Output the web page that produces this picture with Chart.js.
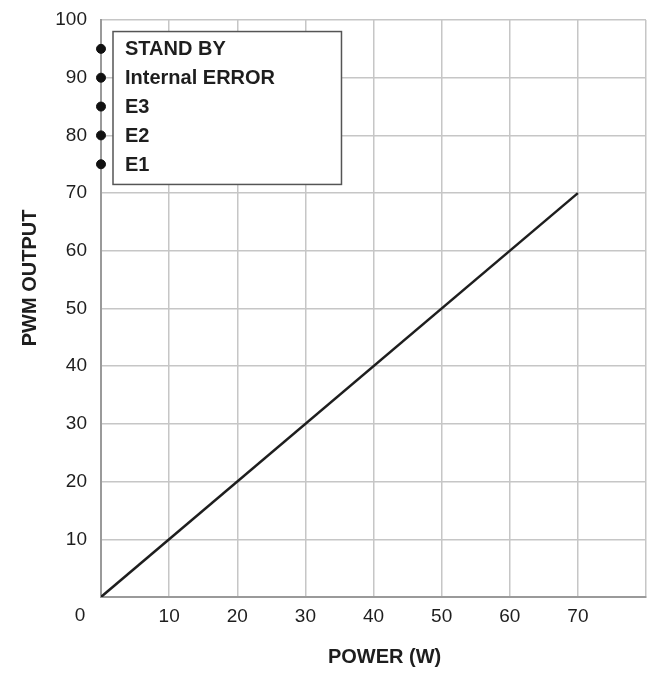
<!DOCTYPE html>
<html>
<head>
<meta charset="utf-8">
<script src="https://cdn.jsdelivr.net/npm/chart.js@4"></script>
<style>
  html, body { margin: 0; padding: 0; background: #fff; }
  #wrap { width: 654px; height: 673px; }
</style>
</head>
<body>
<div id="wrap"><canvas id="pwmChart"></canvas></div>
<script>
// power (W) vs PWM output
const powerW = [0, 70];
const pwmOut = [0, 70];

// status points on the y axis
const statusNames = ['STAND BY', 'Internal ERROR', 'E3', 'E2', 'E1'];
const statusPower = [0, 0, 0, 0, 0];
const statusPwm = [95, 90, 85, 80, 75];

const xTicks = [0, 10, 20, 30, 40, 50, 60, 70, 80];
const yTicks = [0, 10, 20, 30, 40, 50, 60, 70, 80, 90, 100];

const FONT = '"Liberation Sans Narrow", "Arial Narrow", "Liberation Sans", Arial, sans-serif';
const INK = '#1e1e1e';

// box with the status names, next to the dots
const statusBox = {
    id: 'statusBox',
    beforeDatasetsDraw(chart) {
        const ctx = chart.ctx;
        const x = chart.scales.x, y = chart.scales.y;
        const left = x.getPixelForValue(0) + 12;
        const right = x.getPixelForValue(35.3);
        const top = y.getPixelForValue(98);
        const bottom = y.getPixelForValue(71.5);
        ctx.save();
        ctx.fillStyle = '#fff';
        ctx.fillRect(left, top, right - left, bottom - top);
        ctx.strokeStyle = '#555';
        ctx.lineWidth = 1.5;
        ctx.strokeRect(left, top, right - left, bottom - top);
        ctx.restore();
    },
    afterDatasetsDraw(chart) {
        const ctx = chart.ctx;
        const meta = chart.getDatasetMeta(1);
        ctx.save();
        ctx.fillStyle = INK;
        ctx.textBaseline = 'middle';
        ctx.font = 'bold 20px ' + FONT;
        meta.data.forEach((pt, i) => {
            ctx.fillText(statusNames[i], pt.x + 24, pt.y + 1);
        });
        // shared origin label
        ctx.font = '19px ' + FONT;
        ctx.textAlign = 'center';
        ctx.fillText('0', chart.scales.x.getPixelForValue(0) - 21, chart.scales.x.top + 19);
        ctx.restore();
    }
};

new Chart(document.getElementById('pwmChart'), {
    type: 'scatter',
    data: {
        datasets: [{
            data: powerW.map((p, i) => ({ x: p, y: pwmOut[i] })),
            showLine: true,
            borderColor: INK,
            borderWidth: 2.5,
            pointRadius: 0,
            fill: false
        }, {
            data: statusPower.map((p, i) => ({ x: p, y: statusPwm[i] })),
            showLine: false,
            pointRadius: 4.5,
            backgroundColor: '#111',
            borderColor: '#111',
            clip: false
        }]
    },
    options: {
        responsive: true,
        maintainAspectRatio: false,
        animation: false,
        events: [],
        layout: { padding: { left: 0, right: 8, top: 20, bottom: 0 } },
        plugins: {
            legend: { display: false },
            tooltip: { enabled: false }
        },
        scales: {
            x: {
                type: 'linear',
                min: 0,
                max: 80,
                afterBuildTicks: s => { s.ticks = xTicks.map(v => ({ value: v })); },
                afterFit: s => { s.height = 76; },
                ticks: {
                    color: INK,
                    padding: 8,
                    font: { size: 19, family: FONT },
                    callback: v => (v === 0 || v === 80) ? '' : v
                },
                grid: { color: '#c6c6c6', lineWidth: 1.5, drawTicks: false },
                border: { color: '#9a9a9a', width: 2 },
                title: {
                    display: true,
                    text: '    POWER (W)',
                    color: INK,
                    padding: { top: 16 },
                    font: { size: 20, weight: 'bold', family: FONT }
                }
            },
            y: {
                min: 0,
                max: 100,
                afterBuildTicks: s => { s.ticks = yTicks.map(v => ({ value: v })); },
                afterFit: s => { s.width = 101; s.paddingTop = 0; },
                ticks: {
                    color: INK,
                    padding: 14,
                    font: { size: 19, family: FONT },
                    callback: v => v === 0 ? '' : v
                },
                grid: { color: '#c6c6c6', lineWidth: 1.5, drawTicks: false },
                border: { color: '#9a9a9a', width: 2 },
                title: {
                    display: true,
                    text: '           PWM OUTPUT',
                    color: INK,
                    padding: { top: 18, bottom: 0 },
                    font: { size: 20, weight: 'bold', family: FONT }
                }
            }
        }
    },
    plugins: [statusBox]
});
</script>
</body>
</html>
